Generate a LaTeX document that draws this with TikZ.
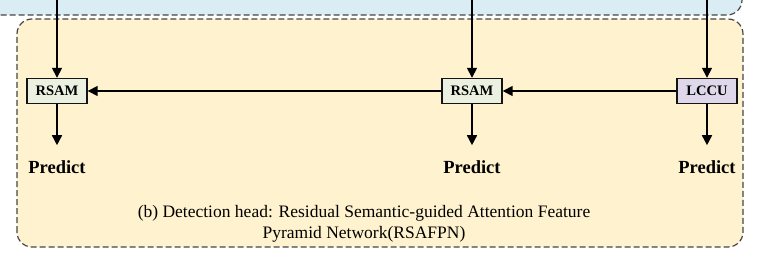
\documentclass[tikz,border=0pt]{standalone}
\usepackage{fontspec}
\setmainfont{Liberation Serif}
\usetikzlibrary{arrows.meta,positioning}
\definecolor{rsedge}{RGB}{20,20,20}
\definecolor{rsdash}{RGB}{70,70,70}
\definecolor{rshead}{RGB}{255,242,206}
\definecolor{rsback}{RGB}{219,237,244}
\definecolor{rssam}{RGB}{234,241,224}
\definecolor{rslcc}{RGB}{222,216,234}
\tikzset{
  modbox/.style={
    draw=rsedge, line width=1.4pt, minimum width=60pt, minimum height=25pt,
    inner sep=0pt, font=\bfseries\fontsize{14.5}{14.5}\selectfont
  },
  sam/.style={modbox, fill=rssam},
  lcc/.style={modbox, fill=rslcc},
  pred/.style={font=\bfseries\fontsize{18.5}{18.5}\selectfont, inner xsep=0pt, inner ysep=15.5pt},
  arr/.style={-{Triangle[length=10pt,width=10pt]}, draw=black, line width=1.6pt},
  grp/.style={draw=rsdash, dash pattern=on 6pt off 3pt, line width=1.2pt, rounded corners=15pt},
  captxt/.style={font=\fontsize{17.5}{21}\selectfont, align=center}
}
\begin{document}
\begin{tikzpicture}[x=1pt, y=1pt, node distance=41pt]
  \useasboundingbox (0,0) rectangle (757,260);
  \clip (0,0) rectangle (757,260);
  \fill[white] (0,0) rectangle (757,260);
  % backbone block, cut off at the top
  \draw[grp, fill=rsback] (-40,245) rectangle (742,300);
  % detection head block
  \draw[grp, fill=rshead] (17,13) rectangle (743,241);
  \node[sam] (rsamL) at (57,169) {RSAM};
  \node[sam] (rsamM) at (472,169) {RSAM};
  \node[lcc] (lccu) at (707,169) {LCCU};
  \coordinate (inL) at (57,262);
  \coordinate (inM) at (472,262);
  \coordinate (inR) at (707,262);
  \node[pred, below=of rsamL] (predL) {Predict};
  \node[pred, below=of rsamM] (predM) {Predict};
  \node[pred, below=of lccu] (predR) {Predict};
  \node[captxt] (capt) at (364,36) {(b) Detection head: Residual Semantic-guided Attention Feature\\Pyramid Network(RSAFPN)};
  \draw[arr] (inL) -- (rsamL);
  \draw[arr] (inM) -- (rsamM);
  \draw[arr] (inR) -- (lccu);
  \draw[arr] (lccu) -- (rsamM);
  \draw[arr] (rsamM) -- (rsamL);
  \draw[arr] (rsamL) -- (predL);
  \draw[arr] (rsamM) -- (predM);
  \draw[arr] (lccu) -- (predR);
\end{tikzpicture}
\end{document}
